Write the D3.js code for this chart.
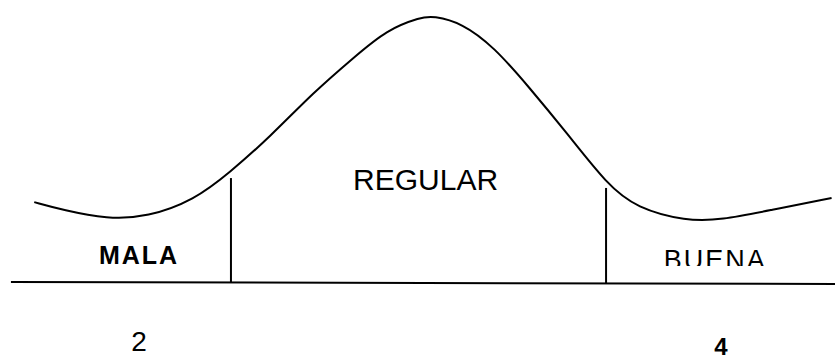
<!DOCTYPE html>
<html>
<head>
<meta charset="utf-8">
<script src="https://cdn.jsdelivr.net/npm/d3@7"></script>
<style>
  body { margin: 0; background: #fff; }
  svg { display: block; }
  text { font-family: "Liberation Sans", Arial, sans-serif; fill: #000; }
</style>
</head>
<body>
<svg id="chart" width="835" height="359"></svg>
<script>
// curve: score on x, relative height (peak = 1) on y
var curveX = [1.64, 1.74, 1.89, 2.03, 2.19, 2.31, 2.45, 2.60, 2.74, 2.85, 2.97, 3.01,
              3.11, 3.22, 3.34, 3.47, 3.61, 3.71, 3.88, 4.00, 4.17, 4.38];
var curveY = [0.303, 0.273, 0.240, 0.247, 0.311, 0.412, 0.547, 0.715, 0.846, 0.948, 0.996, 1.0,
              0.974, 0.884, 0.734, 0.562, 0.367, 0.281, 0.232, 0.236, 0.273, 0.318];

// cut points between the zones
var cutX = [2.316, 3.605];
var cutTop = [0.393, 0.356];

var categories = ["MALA", "REGULAR", "BUENA"];
var categoryAt = [2.0, 2.985, 3.98];

var tickValues = [2, 4];
var tickLabels = ["2", "4"];

var baseFrom = 1.56, baseTo = 4.40;

var svg = d3.select("#chart");

var x = d3.scaleLinear().domain([2, 4]).range([139, 721]);
var y = d3.scaleLinear().domain([0, 1]).range([283, 16]);

var pts = curveX.map(function (v, i) { return [v, curveY[i]]; });

var line = d3.line()
    .x(function (d) { return x(d[0]); })
    .y(function (d) { return y(d[1]); })
    .curve(d3.curveBasis);

// basis smooths the hand-read points; pin the ends so it starts/ends where the picture does
var smooth = [pts[0]].concat(pts, [pts[pts.length - 1]]);

svg.append("path")
    .datum(smooth)
    .attr("d", line)
    .attr("fill", "none")
    .attr("stroke", "#000")
    .attr("stroke-width", 2);

// base line
svg.append("line")
    .attr("x1", x(baseFrom)).attr("x2", x(baseTo))
    .attr("y1", y(0) - 1).attr("y2", y(0) + 1)
    .attr("stroke", "#000")
    .attr("stroke-width", 2);

// vertical cuts
svg.selectAll(".cut")
    .data(cutX)
    .enter().append("line")
    .attr("class", "cut")
    .attr("x1", function (d) { return x(d); })
    .attr("x2", function (d) { return x(d); })
    .attr("y1", function (d, i) { return y(cutTop[i]); })
    .attr("y2", y(0))
    .attr("stroke", "#000")
    .attr("stroke-width", 2);

// clip for the bottom-cut BUENA label
svg.append("clipPath").attr("id", "cutBottom")
    .append("rect").attr("x", 0).attr("y", 0).attr("width", 835).attr("height", 266);

var labStyle = [
    { y: 264, size: 25, weight: "bold", spacing: 2 },
    { y: 190, size: 30, weight: "normal", spacing: 0 },
    { y: 269, size: 27, weight: "normal", spacing: 2 }
];

svg.selectAll(".cat")
    .data(categories)
    .enter().append("text")
    .attr("class", "cat")
    .attr("x", function (d, i) { return x(categoryAt[i]); })
    .attr("y", function (d, i) { return labStyle[i].y; })
    .attr("text-anchor", "middle")
    .style("font-size", function (d, i) { return labStyle[i].size + "px"; })
    .style("font-weight", function (d, i) { return labStyle[i].weight; })
    .style("letter-spacing", function (d, i) { return labStyle[i].spacing + "px"; })
    .attr("clip-path", function (d, i) { return i == 2 ? "url(#cutBottom)" : null; })
    .text(function (d) { return d; });

// the two values under the axis
svg.selectAll(".tick")
    .data(tickValues)
    .enter().append("text")
    .attr("class", "tick")
    .attr("x", function (d) { return x(d); })
    .attr("y", function (d, i) { return i == 0 ? 351 : 355; })
    .attr("text-anchor", "middle")
    .style("font-size", function (d, i) { return i == 0 ? "28px" : "24px"; })
    .style("font-weight", function (d, i) { return i == 0 ? "normal" : "bold"; })
    .text(function (d, i) { return tickLabels[i]; });
</script>
</body>
</html>
